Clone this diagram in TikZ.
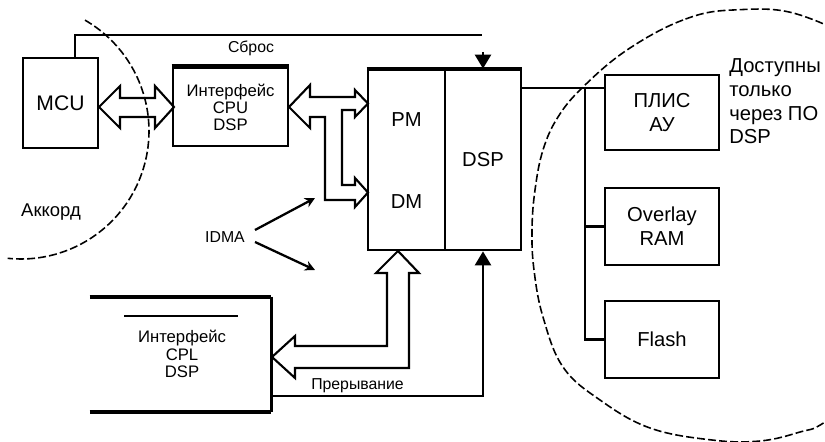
\documentclass[tikz,border=0pt]{standalone}
\usepackage{fontspec}
\setmainfont{Liberation Sans}
\usetikzlibrary{arrows.meta,calc}
\newcommand\myfs[2]{\fontsize{#1}{#2}\selectfont}
\begin{document}
\begin{tikzpicture}[x=0.02cm,y=-0.02cm,
  box/.style={draw, line width=1.6pt, inner sep=0pt, align=center},
  wire/.style={line width=1.5pt},
  hollow/.style={line width=1.2pt, line join=miter},
  zone/.style={line width=0.9pt, dash pattern=on 4.5pt off 1.8pt},
  lbl/.style={inner sep=0pt, align=center},
  bigtxt/.style={font=\myfs{11.5}{13.6}},
  filltip/.style={-{Triangle[length=0.28cm,width=0.32cm]}},
  idmatip/.style={-{Stealth[length=0.2cm,width=0.2cm]}}]
\useasboundingbox (0,0) rectangle (825,442);

% dashed zones
\begin{scope}
\clip (0,0) rectangle (825,442);
\draw[zone] plot[domain=-60:96, samples=80, smooth] ({21+128*cos(\x)},{131+128*sin(\x)});
\draw[zone] plot[smooth cycle, tension=0.65] coordinates {(733,10) (683,20) (627,50) (583,87) (558,117) (543,150) (535,190) (532,230) (534,270) (543,317) (563,367) (600,400) (650,428) (712,440) (760,441) (800,432) (825,422) (880,380) (920,300) (930,220) (915,130) (870,55) (800,15)};
\end{scope}

% boxes
\node[box, minimum width=1.5cm, minimum height=1.8cm, font=\myfs{12}{14}] (mcu) at (60.5,103) {MCU};
\node[box, minimum width=2.3cm, minimum height=1.56cm, font=\myfs{9.5}{9.7}] (ifc1) at (230.5,107) {Интерфейс\\CPU\\DSP};
\draw[line width=2.4pt] (ifc1.north west) -- (ifc1.north east);
\node[box, minimum width=1.54cm, minimum height=3.6cm] (pmdm) at (406.5,160) {};
\node[box, minimum width=1.52cm, minimum height=3.6cm, bigtxt] (dsp) at (483,160) {DSP};
\draw[line width=2.4pt] (pmdm.north west) -- (dsp.north east);
\node[lbl, bigtxt] (pm) at (406.5,120) {PM};
\node[lbl, bigtxt] (dm) at (406.5,202) {DM};

\node[box, minimum width=2.28cm, minimum height=1.5cm, bigtxt] (pl) at (662,112.5) {ПЛИС\\АУ};
\node[box, minimum width=2.28cm, minimum height=1.54cm, bigtxt] (ram) at (662,226.5) {Overlay\\RAM};
\node[box, minimum width=2.28cm, minimum height=1.54cm, bigtxt] (flash) at (662,339.5) {Flash};

% bottom interface (open on the left)
\node[lbl, minimum width=3.62cm, minimum height=2.3cm] (ifc2) at (180.5,354.5) {};
\node[lbl, font=\myfs{9.5}{10}] (ifc2txt) at (182,354) {Интерфейс\\CPL\\DSP};
\draw[line width=1.6pt] (ifc2.north east) -- (ifc2.south east);
\draw[line width=2.4pt] (ifc2.north west) -- (ifc2.north east);
\draw[line width=2.2pt] (ifc2.south west) -- (ifc2.south east);
\draw[line width=1.3pt] (124,316) -- (238,316);

% labels
\node[lbl, bigtxt, align=left, anchor=north west] (note) at (729,58) {Доступны\\только\\через ПО\\DSP};
\node[lbl, font=\myfs{10.5}{12}] (akk) at (51,212) {Аккорд};
\node[lbl, font=\myfs{9}{10}] (idma) at (225,237) {IDMA};
\node[lbl, font=\myfs{9}{10}] (sbros) at (251,48) {Сброс};
\node[lbl, font=\myfs{9}{10}] (irqlbl) at (357.5,386) {Прерывание};

% reset line
\coordinate (rstend) at (482,35);
\coordinate (rsttop) at (483,52);
\draw[wire] ([xshift=0.29cm]mcu.north) |- (rstend);
\draw[wire, filltip] (rsttop) -- (dsp.north);

% interrupt line
\coordinate (irq) at (271,396);
\draw[wire, filltip] (irq) -| (dsp.south);

% DSP bus to peripherals
\coordinate (bustop) at (585,88);
\draw[wire] (dsp.east |- bustop) -- (pl.west |- bustop);
\draw[wire] (bustop) |- (flash.west);
\draw[wire] (bustop |- ram.west) -- (ram.west);

% IDMA arrows
\coordinate (i1) at (315,198);
\coordinate (i2) at (315,270);
\draw[line width=1.3pt, idmatip] (255,230) -- (i1);
\draw[line width=1.3pt, idmatip] (255,242) -- (i2);

% hollow arrows
\draw[hollow] (99,107) -- (120,86) -- (120,98) -- (155,98) -- (155,86) -- (174,107) -- (155,128) -- (155,117) -- (120,117) -- (120,128) -- cycle;
\draw[hollow] (289,107) -- (310,85) -- (310,97) -- (355,97) -- (355,90) -- (368,103.5) -- (355,117) -- (355,110) -- (342,110) -- (342,185) -- (355,185) -- (355,178) -- (368,192.5) -- (355,207) -- (355,200) -- (325,200) -- (325,117) -- (310,117) -- (310,128) -- cycle;
\draw[hollow] (398,251) -- (419,273) -- (409,273) -- (409,368) -- (295,368) -- (295,378) -- (272,357) -- (295,336) -- (295,346) -- (387,346) -- (387,273) -- (376,273) -- cycle;
\end{tikzpicture}
\end{document}
